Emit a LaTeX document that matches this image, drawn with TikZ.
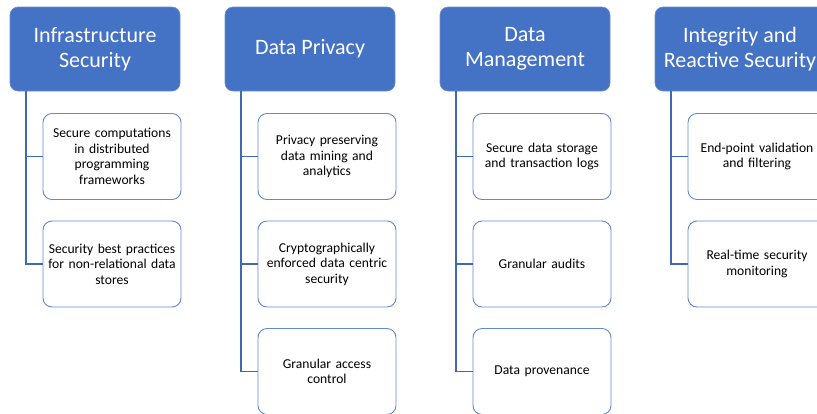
\documentclass[tikz,border=0pt]{standalone}
\usepackage{fontspec}
\setmainfont{Carlito}
\definecolor{hdblue}{HTML}{4472C4}
\definecolor{boxline}{HTML}{6189D0}
\definecolor{treeline}{HTML}{3F68B5}

\begin{document}
\begin{tikzpicture} [x=1pt, y=-1pt,
		header/.style={draw=hdblue!80!white, fill=hdblue, rounded corners=8pt, line width=.6pt,
			minimum width=170pt, minimum height=84pt, inner sep=0pt, align=center,
			text=white, font=\fontsize{22}{25}\selectfont},
		item/.style={draw=boxline, fill=white, rounded corners=9pt, line width=.9pt,
			minimum width=138pt, minimum height=86pt, inner sep=0pt, align=center,
			text width=134pt, font=\fontsize{13.6}{15.5}\selectfont},
		tree/.style={draw=treeline, line width=1.2pt}]

		\useasboundingbox (0,0) rectangle (817,413);
		\clip (0,0) rectangle (817,413);

		% headers
		\node[header] (hdInfra) at (95,49) {Infrastructure\\Security};

		\node[header] (hdPriv) at (310,49) {Data Privacy};

		\node[header] (hdMgmt) at (525,49) {Data\\Management};

		\node[header] (hdInteg) at (740,49) {Integrity and\\Reactive Security};

		% tree trunks
		\coordinate (trInfra) at (26,91);
		\coordinate (trPriv) at (241,91);
		\coordinate (trMgmt) at (456,91);
		\coordinate (trInteg) at (671,91);

		% infrastructure security
		\node[item] (infSec) at (112,156.5) {Secure computations\\in distributed\\programming\\frameworks};

		\node[item] (infBest) at (112,264) {Security best practices\\for non-relational data\\stores};

		% data privacy
		\node[item] (prvMine) at (327,156.5) {Privacy preserving\\data mining and\\analytics};

		\node[item] (prvCrypt) at (327,264) {Cryptographically\\enforced data centric\\security};

		\node[item] (prvAccess) at (327,371.5) {Granular access\\control};

		% data management
		\node[item] (mgmStore) at (542,156.5) {Secure data storage\\and transaction logs};

		\node[item] (mgmAudit) at (542,264) {Granular audits};

		\node[item] (mgmProv) at (542,371.5) {Data provenance};

		% integrity and reactive security
		\node[item] (intValid) at (757,156.5) {End-point validation\\and filtering};

		\node[item] (intMon) at (757,264) {Real-time security\\monitoring};

		% connectors
		\draw[tree] (trInfra) |- (infSec.west);
		\draw[tree] (trInfra) |- (infBest.west);

		\draw[tree] (trPriv) |- (prvMine.west);
		\draw[tree] (trPriv) |- (prvCrypt.west);
		\draw[tree] (trPriv) |- (prvAccess.west);

		\draw[tree] (trMgmt) |- (mgmStore.west);
		\draw[tree] (trMgmt) |- (mgmAudit.west);
		\draw[tree] (trMgmt) |- (mgmProv.west);

		\draw[tree] (trInteg) |- (intValid.west);
		\draw[tree] (trInteg) |- (intMon.west);
	\end{tikzpicture}
\end{document}
